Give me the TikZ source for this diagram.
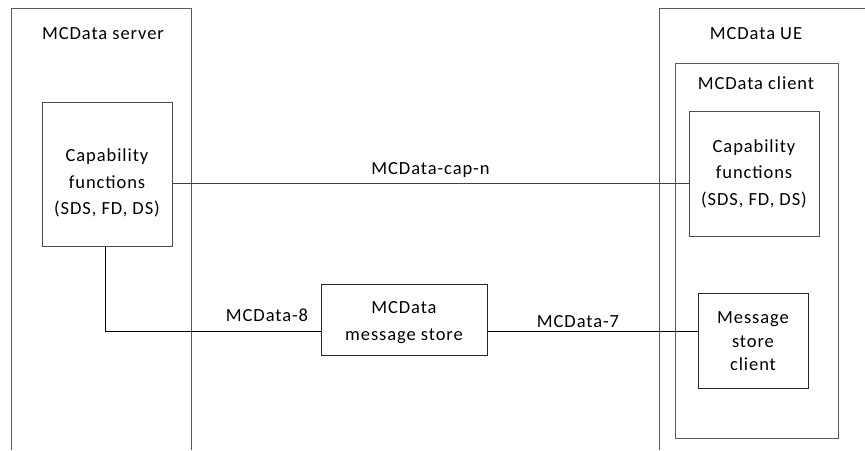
\documentclass[tikz,border=0pt]{standalone}
\usepackage{fontspec}
\setmainfont{Carlito}[LetterSpace=5]
\begin{document}
\begin{tikzpicture}[x=1pt,y=-1pt,
  every node/.style={font=\fontsize{18.5}{26.5}\selectfont, inner sep=0pt},
  outerline/.style={draw=black!65, line width=1pt},
  box/.style={draw=black!85, line width=1pt, align=center},
  conn/.style={draw=black, line width=1pt},
  lbl/.style={align=center}]
\useasboundingbox (0,0) rectangle (865,450);
% outer containers
\coordinate (sbl) at (11,450);
\coordinate (stl) at (11,8);
\coordinate (str) at (191,8);
\coordinate (sbr) at (191,450);
\draw[outerline] (sbl) -- (stl) -- (str) -- (sbr);
\coordinate (ubl) at (659,450);
\coordinate (utl) at (659,8);
\coordinate (utr) at (866,8);
\draw[outerline] (ubl) -- (utl) -- (utr);
\node[lbl] (slabel) at (103,34) {MCData server};
\node[lbl] (ulabel) at (756,34) {MCData UE};
% client box
\node[outerline, minimum width=163pt, minimum height=375pt] (client) at (756.5,250.5) {};
\node[lbl] (clabel) at (756,83) {MCData client};
% inner boxes
\node[box, draw=black!70, minimum width=130pt, minimum height=144pt] (scap) at (107,174) {};
\node[lbl] (scaptext) at (107,183) {Capability\\functions\\(SDS, FD, DS)};
\node[box, draw=black!70, minimum width=130pt, minimum height=125pt] (ucap) at (754,173.5) {Capability\\functions\\(SDS, FD, DS)};
\node[box, minimum width=110pt, minimum height=95pt] (msc) at (753,340.5) {};
\node[lbl, font=\fontsize{18.5}{23.5}\selectfont] (msctext) at (753,341.5) {Message\\store\\client};
\node[box, minimum width=166pt, minimum height=71pt] (store) at (404,319.5) {};
\node[lbl] (storetext) at (404,322.5) {MCData\\message store};
% connectors
\coordinate (cy) at (0,183);
\coordinate (my) at (0,331);
\coordinate (mx) at (105,0);
\draw[conn, draw=black!75] (scap.east |- cy) -- node[lbl, above=5pt] (capn) {MCData-cap-n} (ucap.west |- cy);
\draw[conn] (scap.south -| mx) |- (store.west |- my);
\draw[conn] (store.east |- my) -- (msc.west |- my);
\node[lbl] (m8) at (267,315) {MCData-8};
\node[lbl] (m7) at (578,322) {MCData-7};
\end{tikzpicture}
\end{document}
